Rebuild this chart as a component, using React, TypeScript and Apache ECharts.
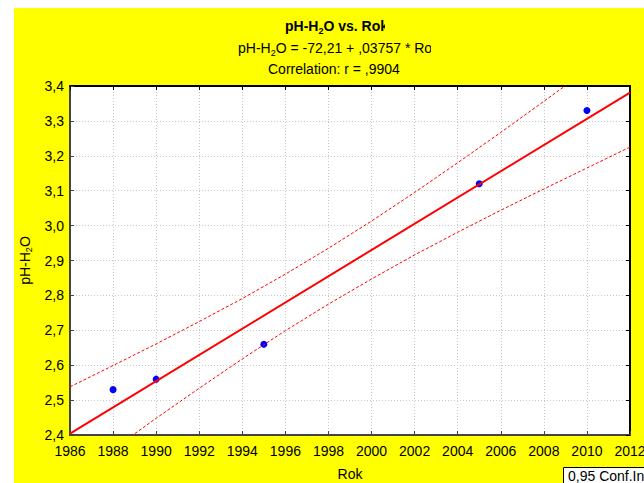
import React, { useEffect, useRef } from "react";
import * as echarts from "echarts";

// Data
const pointYears = [1988, 1990, 1995, 2005, 2010];
const pointValues = [2.53, 2.56, 2.66, 3.12, 3.33];

const fitYears = [1986, 2012];
const fitValues = [2.404, 3.381];

const bandYears = [1986, 1988, 1990, 1992, 1994, 1996, 1998, 2000, 2002, 2004, 2006, 2008, 2010, 2012];
const upperValues = [2.538, 2.599, 2.661, 2.725, 2.791, 2.861, 2.935, 3.013, 3.095, 3.18, 3.267, 3.356, 3.446, 3.537];
const lowerValues = [2.27, 2.359, 2.448, 2.534, 2.618, 2.699, 2.775, 2.847, 2.916, 2.981, 3.044, 3.105, 3.165, 3.225];

const titleLine1 = "{b|pH-H}{bs|2}{b|O vs. Rok}";
const titleLine2 = "{n|pH-H}{ns|2}{n|O = -72,21 + ,03757 * Rok}";
const titleLine3 = "Correlation: r = ,9904";
const xName = "Rok";
const yName = "{n|pH-H}{ns|2}{n|O}";
const legendText = "0,95 Conf.Int.";

const FONT = "'Liberation Sans', Arial, sans-serif";
const FS = 14;
const RED = "#ff0000";

export default function App() {
  const ref = useRef<HTMLDivElement>(null);
  useEffect(() => {
    if (!ref.current) return;
    const chart = echarts.init(ref.current, undefined, { renderer: "svg" });
    const rich = {
      b: { fontFamily: FONT, fontSize: FS, fontWeight: "bold" },
      bs: { fontFamily: FONT, fontSize: 9, fontWeight: "bold", padding: [9, 0, 0, 0] },
      n: { fontFamily: FONT, fontSize: FS },
      ns: { fontFamily: FONT, fontSize: 9, padding: [9, 0, 0, 0] },
    };
    const axisLabelStyle = { fontFamily: FONT, fontSize: FS, color: "#000" };
    chart.setOption({
      animation: false,
      backgroundColor: "#ffff00",
      grid: {
        left: 70,
        top: 86,
        right: 14,
        bottom: 48,
        containLabel: false,
        outerBoundsMode: "none",
        show: true,
        backgroundColor: "#ffffff",
        borderWidth: 0,
      },
      xAxis: [
        {
          type: "value",
          min: 1986,
          max: 2012,
          interval: 2,
          position: "bottom",
          name: xName,
          nameLocation: "middle",
          nameGap: 32,
          nameTextStyle: { fontFamily: FONT, fontSize: FS, color: "#000" },
          axisLine: { show: true, onZero: false, lineStyle: { color: "#444", width: 2 } },
          axisTick: { show: true, inside: true, length: 4, lineStyle: { color: "#444" } },
          axisLabel: { ...axisLabelStyle, margin: 9, formatter: (v: number) => String(v) },
          splitLine: { show: true, lineStyle: { color: "#c8c8c8", type: [1, 2], width: 1 } },
        },
        {
          type: "value",
          min: 1986,
          max: 2012,
          interval: 2,
          position: "top",
          axisLine: { show: true, onZero: false, lineStyle: { color: "#000", width: 2 } },
          axisTick: { show: true, inside: true, length: 4, lineStyle: { color: "#000" } },
          axisLabel: { show: false },
          splitLine: { show: false },
        },
      ],
      yAxis: [
        {
          type: "value",
          min: 2.4,
          max: 3.4,
          interval: 0.1,
          position: "left",
          name: yName,
          nameLocation: "middle",
          nameGap: 35,
          nameRotate: 90,
          nameTextStyle: { color: "#000", rich },
          axisLine: { show: true, onZero: false, lineStyle: { color: "#444", width: 2 } },
          axisTick: { show: true, inside: true, length: 4, lineStyle: { color: "#444" } },
          axisLabel: {
            ...axisLabelStyle,
            margin: 6,
            formatter: (v: number) => v.toFixed(1).replace(".", ","),
          },
          splitLine: { show: true, lineStyle: { color: "#c8c8c8", type: [1, 2], width: 1 } },
        },
        {
          type: "value",
          min: 2.4,
          max: 3.4,
          interval: 0.1,
          position: "right",
          axisLine: { show: true, onZero: false, lineStyle: { color: "#000", width: 2 } },
          axisTick: { show: true, inside: true, length: 4, lineStyle: { color: "#000" } },
          axisLabel: { show: false },
          splitLine: { show: false },
        },
      ],
      series: [
        {
          type: "scatter",
          xAxisIndex: 0,
          yAxisIndex: 0,
          symbol: "circle",
          symbolSize: 7,
          itemStyle: { color: "#0000ff", opacity: 1 },
          data: pointYears.map((y, i) => [y, pointValues[i]]),
          z: 2,
        },
        {
          type: "line",
          xAxisIndex: 0,
          yAxisIndex: 0,
          showSymbol: false,
          symbol: "none",
          clip: true,
          lineStyle: { color: RED, width: 2 },
          data: fitYears.map((y, i) => [y, fitValues[i]]),
          z: 3,
        },
        {
          type: "line",
          xAxisIndex: 0,
          yAxisIndex: 0,
          symbol: "none",
          clip: true,
          lineStyle: { color: RED, width: 1, type: [3, 2] },
          data: bandYears.map((y, i) => [y, upperValues[i]]),
          z: 3,
        },
        {
          type: "line",
          xAxisIndex: 0,
          yAxisIndex: 0,
          symbol: "none",
          clip: true,
          lineStyle: { color: RED, width: 1, type: [3, 2] },
          data: bandYears.map((y, i) => [y, lowerValues[i]]),
          z: 3,
        },
      ],
      graphic: [
        { type: "rect", shape: { x: 0, y: 0, width: 644, height: 8 }, style: { fill: "#ffffff" }, silent: true },
        { type: "rect", shape: { x: 0, y: 0, width: 14, height: 483 }, style: { fill: "#ffffff" }, silent: true },
        {
          type: "text",
          x: 285,
          y: 26,
          style: { text: titleLine1, rich, fill: "#000", textAlign: "left", textVerticalAlign: "middle" },
        },
        {
          type: "text",
          x: 238,
          y: 48,
          style: { text: titleLine2, rich, fill: "#000", textAlign: "left", textVerticalAlign: "middle" },
        },
        {
          type: "text",
          x: 268,
          y: 69,
          style: {
            text: titleLine3,
            font: FS + "px " + FONT,
            fill: "#000",
            textAlign: "left",
            textVerticalAlign: "middle",
          },
        },
        { type: "rect", shape: { x: 385, y: 16, width: 20, height: 20 }, style: { fill: "#ffff00" }, z: 10 },
        { type: "rect", shape: { x: 431, y: 38, width: 40, height: 20 }, style: { fill: "#ffff00" }, z: 10 },
        {
          type: "rect",
          shape: { x: 563.5, y: 467.5, width: 100, height: 30 },
          style: { fill: "#ffffff", stroke: "#000", lineWidth: 1 },
        },
        {
          type: "text",
          x: 568,
          y: 476,
          style: {
            text: legendText,
            font: FS + "px " + FONT,
            fill: "#000",
            textAlign: "left",
            textVerticalAlign: "middle",
          },
          z: 11,
        },
      ],
    });
    return () => chart.dispose();
  }, []);
  return (
    <div
      ref={ref}
      style={{ position: "fixed", left: 0, top: 0, width: 644, height: 483 }}
    />
  );
}
